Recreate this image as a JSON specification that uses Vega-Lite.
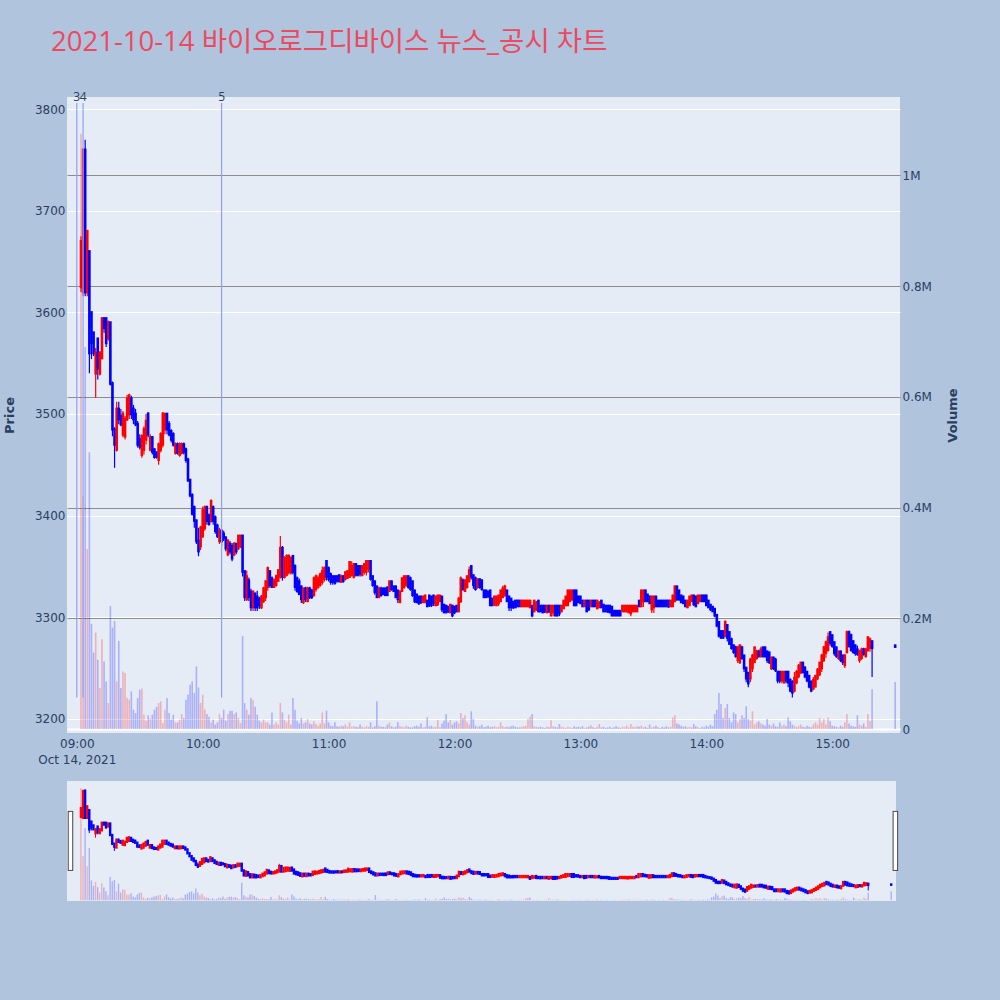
{
"$schema": "https://vega.github.io/schema/vega-lite/v6.json",
"background": "#B0C4DE",
"padding": {"left": 3, "top": 28, "right": 60, "bottom": 100},
"title": {"text": "2021-10-14 바이오로그디바이스 뉴스_공시 차트", "anchor": "start", "frame": "group", "dx": -16, "offset": 35, "fontSize": 27.5, "fontWeight": "normal", "color": "#EB4A5F", "font": "Open Sans, Noto Sans CJK KR, sans-serif"},
"datasets": {
 "news": [{"t": "09:00", "n": "3"}, {"t": "09:03", "n": "4"}, {"t": "10:09", "n": "5"}],
 "handle": [{"t": "08:57", "n": "start"}, {"t": "15:32", "n": "end"}]
},
"data": {"format": {"parse": {"t": "utc:'%H:%M'"}}, "values": [
{"t":"09:02","o":3625,"h":3675,"l":3620,"c":3670,"v":1075000},
{"t":"09:03","o":3620,"h":3761,"l":3616,"c":3760,"v":420000},
{"t":"09:04","o":3760,"h":3770,"l":3616,"c":3620,"v":690000},
{"t":"09:05","o":3620,"h":3680,"l":3616,"c":3680,"v":325000},
{"t":"09:06","o":3660,"h":3660,"l":3540,"c":3560,"v":500000},
{"t":"09:07","o":3600,"h":3600,"l":3554,"c":3570,"v":190000},
{"t":"09:08","o":3580,"h":3581,"l":3557,"c":3560,"v":138000},
{"t":"09:09","o":3540,"h":3565,"l":3516,"c":3560,"v":174000},
{"t":"09:10","o":3574,"h":3575,"l":3534,"c":3545,"v":125000},
{"t":"09:11","o":3540,"h":3562,"l":3538,"c":3560,"v":74000},
{"t":"09:12","o":3555,"h":3595,"l":3554,"c":3594,"v":162000},
{"t":"09:13","o":3594,"h":3595,"l":3580,"c":3585,"v":122000},
{"t":"09:14","o":3594,"h":3595,"l":3566,"c":3570,"v":86000},
{"t":"09:15","o":3575,"h":3592,"l":3572,"c":3590,"v":47000},
{"t":"09:16","o":3590,"h":3590,"l":3528,"c":3530,"v":222000},
{"t":"09:17","o":3530,"h":3532,"l":3478,"c":3485,"v":183000},
{"t":"09:18","o":3485,"h":3487,"l":3447,"c":3470,"v":195000},
{"t":"09:19","o":3465,"h":3512,"l":3463,"c":3505,"v":86000},
{"t":"09:20","o":3505,"h":3512,"l":3490,"c":3495,"v":159000},
{"t":"09:21","o":3498,"h":3505,"l":3488,"c":3490,"v":74000},
{"t":"09:22","o":3480,"h":3503,"l":3477,"c":3500,"v":104000},
{"t":"09:23","o":3478,"h":3498,"l":3475,"c":3495,"v":101000},
{"t":"09:24","o":3495,"h":3519,"l":3493,"c":3515,"v":56000},
{"t":"09:25","o":3500,"h":3520,"l":3495,"c":3518,"v":53000},
{"t":"09:26","o":3515,"h":3518,"l":3495,"c":3500,"v":68000},
{"t":"09:27","o":3505,"h":3509,"l":3490,"c":3495,"v":35000},
{"t":"09:28","o":3500,"h":3505,"l":3488,"c":3490,"v":29000},
{"t":"09:29","o":3490,"h":3493,"l":3467,"c":3470,"v":56000},
{"t":"09:30","o":3475,"h":3480,"l":3465,"c":3468,"v":71000},
{"t":"09:31","o":3460,"h":3480,"l":3457,"c":3478,"v":73000},
{"t":"09:32","o":3465,"h":3488,"l":3460,"c":3485,"v":26000},
{"t":"09:33","o":3475,"h":3500,"l":3470,"c":3493,"v":15000},
{"t":"09:34","o":3500,"h":3502,"l":3477,"c":3480,"v":25000},
{"t":"09:35","o":3465,"h":3480,"l":3463,"c":3477,"v":19000},
{"t":"09:36","o":3477,"h":3478,"l":3460,"c":3463,"v":26000},
{"t":"09:37","o":3465,"h":3466,"l":3456,"c":3458,"v":35000},
{"t":"09:38","o":3462,"h":3463,"l":3456,"c":3458,"v":40000},
{"t":"09:39","o":3455,"h":3472,"l":3450,"c":3470,"v":47000},
{"t":"09:40","o":3465,"h":3482,"l":3462,"c":3480,"v":50000},
{"t":"09:41","o":3470,"h":3502,"l":3467,"c":3500,"v":11000},
{"t":"09:42","o":3485,"h":3501,"l":3480,"c":3500,"v":35000},
{"t":"09:43","o":3500,"h":3501,"l":3480,"c":3485,"v":56000},
{"t":"09:44","o":3490,"h":3493,"l":3478,"c":3480,"v":29000},
{"t":"09:45","o":3483,"h":3485,"l":3472,"c":3475,"v":17000},
{"t":"09:46","o":3480,"h":3482,"l":3468,"c":3470,"v":26000},
{"t":"09:47","o":3462,"h":3472,"l":3460,"c":3470,"v":12000},
{"t":"09:48","o":3470,"h":3472,"l":3460,"c":3462,"v":12000},
{"t":"09:49","o":3460,"h":3472,"l":3458,"c":3470,"v":17000},
{"t":"09:50","o":3462,"h":3472,"l":3460,"c":3470,"v":27000},
{"t":"09:51","o":3470,"h":3472,"l":3460,"c":3463,"v":20000},
{"t":"09:52","o":3465,"h":3467,"l":3452,"c":3455,"v":53000},
{"t":"09:53","o":3455,"h":3457,"l":3433,"c":3435,"v":62000},
{"t":"09:54","o":3435,"h":3436,"l":3418,"c":3420,"v":80000},
{"t":"09:55","o":3420,"h":3422,"l":3400,"c":3402,"v":86000},
{"t":"09:56","o":3408,"h":3410,"l":3388,"c":3395,"v":65000},
{"t":"09:57","o":3395,"h":3396,"l":3372,"c":3375,"v":113000},
{"t":"09:58","o":3375,"h":3388,"l":3360,"c":3365,"v":75000},
{"t":"09:59","o":3370,"h":3390,"l":3366,"c":3388,"v":47000},
{"t":"10:00","o":3380,"h":3409,"l":3378,"c":3405,"v":62000},
{"t":"10:01","o":3388,"h":3410,"l":3385,"c":3408,"v":35000},
{"t":"10:02","o":3408,"h":3410,"l":3391,"c":3395,"v":27000},
{"t":"10:03","o":3400,"h":3402,"l":3390,"c":3392,"v":22000},
{"t":"10:04","o":3395,"h":3416,"l":3393,"c":3414,"v":12000},
{"t":"10:05","o":3408,"h":3410,"l":3391,"c":3395,"v":17000},
{"t":"10:06","o":3398,"h":3400,"l":3382,"c":3385,"v":8000},
{"t":"10:07","o":3390,"h":3392,"l":3378,"c":3380,"v":12000},
{"t":"10:08","o":3375,"h":3388,"l":3372,"c":3385,"v":27000},
{"t":"10:09","o":3385,"h":3386,"l":3370,"c":3375,"v":20000},
{"t":"10:10","o":3382,"h":3385,"l":3375,"c":3378,"v":35000},
{"t":"10:11","o":3378,"h":3380,"l":3365,"c":3368,"v":15000},
{"t":"10:12","o":3362,"h":3377,"l":3360,"c":3375,"v":27000},
{"t":"10:13","o":3372,"h":3375,"l":3362,"c":3365,"v":33000},
{"t":"10:14","o":3370,"h":3373,"l":3355,"c":3358,"v":33000},
{"t":"10:15","o":3362,"h":3374,"l":3360,"c":3372,"v":27000},
{"t":"10:16","o":3372,"h":3373,"l":3362,"c":3365,"v":30000},
{"t":"10:17","o":3368,"h":3381,"l":3366,"c":3380,"v":20000},
{"t":"10:18","o":3370,"h":3381,"l":3368,"c":3380,"v":11000},
{"t":"10:19","o":3380,"h":3381,"l":3340,"c":3345,"v":168000},
{"t":"10:20","o":3345,"h":3346,"l":3316,"c":3320,"v":47000},
{"t":"10:21","o":3318,"h":3346,"l":3316,"c":3340,"v":35000},
{"t":"10:22","o":3336,"h":3339,"l":3316,"c":3320,"v":26000},
{"t":"10:23","o":3325,"h":3328,"l":3306,"c":3310,"v":56000},
{"t":"10:24","o":3310,"h":3326,"l":3306,"c":3325,"v":52000},
{"t":"10:25","o":3323,"h":3324,"l":3306,"c":3310,"v":40000},
{"t":"10:26","o":3320,"h":3326,"l":3306,"c":3310,"v":26000},
{"t":"10:27","o":3318,"h":3320,"l":3308,"c":3312,"v":15000},
{"t":"10:28","o":3310,"h":3322,"l":3308,"c":3320,"v":12000},
{"t":"10:29","o":3316,"h":3330,"l":3314,"c":3328,"v":17000},
{"t":"10:30","o":3320,"h":3336,"l":3316,"c":3335,"v":12000},
{"t":"10:31","o":3330,"h":3350,"l":3326,"c":3348,"v":12000},
{"t":"10:32","o":3345,"h":3346,"l":3329,"c":3332,"v":8000},
{"t":"10:33","o":3338,"h":3340,"l":3329,"c":3330,"v":30000},
{"t":"10:34","o":3330,"h":3338,"l":3329,"c":3336,"v":8000},
{"t":"10:35","o":3332,"h":3342,"l":3330,"c":3340,"v":12000},
{"t":"10:36","o":3336,"h":3347,"l":3335,"c":3346,"v":8000},
{"t":"10:37","o":3340,"h":3380,"l":3338,"c":3368,"v":47000},
{"t":"10:38","o":3368,"h":3370,"l":3336,"c":3340,"v":30000},
{"t":"10:39","o":3340,"h":3360,"l":3338,"c":3358,"v":17000},
{"t":"10:40","o":3342,"h":3362,"l":3340,"c":3360,"v":12000},
{"t":"10:41","o":3345,"h":3362,"l":3342,"c":3360,"v":26000},
{"t":"10:42","o":3344,"h":3360,"l":3342,"c":3358,"v":8000},
{"t":"10:43","o":3360,"h":3361,"l":3342,"c":3345,"v":56000},
{"t":"10:44","o":3350,"h":3352,"l":3326,"c":3330,"v":35000},
{"t":"10:45","o":3338,"h":3340,"l":3324,"c":3326,"v":15000},
{"t":"10:46","o":3335,"h":3338,"l":3322,"c":3323,"v":10000},
{"t":"10:47","o":3330,"h":3331,"l":3314,"c":3318,"v":20000},
{"t":"10:48","o":3315,"h":3329,"l":3313,"c":3328,"v":10000},
{"t":"10:49","o":3328,"h":3330,"l":3315,"c":3318,"v":12000},
{"t":"10:50","o":3316,"h":3330,"l":3315,"c":3328,"v":18000},
{"t":"10:51","o":3328,"h":3330,"l":3318,"c":3320,"v":10000},
{"t":"10:52","o":3326,"h":3328,"l":3318,"c":3320,"v":8000},
{"t":"10:53","o":3322,"h":3340,"l":3320,"c":3338,"v":14000},
{"t":"10:54","o":3328,"h":3342,"l":3325,"c":3340,"v":9000},
{"t":"10:55","o":3330,"h":3341,"l":3328,"c":3338,"v":6000},
{"t":"10:56","o":3332,"h":3344,"l":3330,"c":3342,"v":10000},
{"t":"10:57","o":3335,"h":3350,"l":3332,"c":3345,"v":30000},
{"t":"10:58","o":3338,"h":3350,"l":3335,"c":3348,"v":10000},
{"t":"10:59","o":3355,"h":3356,"l":3336,"c":3340,"v":33000},
{"t":"11:00","o":3348,"h":3350,"l":3335,"c":3338,"v":12000},
{"t":"11:01","o":3342,"h":3344,"l":3332,"c":3335,"v":6000},
{"t":"11:02","o":3340,"h":3341,"l":3332,"c":3335,"v":5000},
{"t":"11:03","o":3340,"h":3341,"l":3332,"c":3334,"v":12000},
{"t":"11:04","o":3340,"h":3341,"l":3334,"c":3336,"v":5000},
{"t":"11:05","o":3341,"h":3342,"l":3334,"c":3336,"v":4000},
{"t":"11:06","o":3335,"h":3342,"l":3334,"c":3340,"v":6000},
{"t":"11:07","o":3340,"h":3341,"l":3334,"c":3336,"v":5000},
{"t":"11:08","o":3338,"h":3345,"l":3336,"c":3344,"v":8000},
{"t":"11:09","o":3339,"h":3346,"l":3338,"c":3345,"v":4000},
{"t":"11:10","o":3340,"h":3355,"l":3339,"c":3354,"v":12000},
{"t":"11:11","o":3342,"h":3355,"l":3340,"c":3350,"v":4000},
{"t":"11:12","o":3340,"h":3353,"l":3338,"c":3352,"v":5000},
{"t":"11:13","o":3352,"h":3353,"l":3340,"c":3342,"v":4000},
{"t":"11:14","o":3350,"h":3351,"l":3340,"c":3342,"v":3000},
{"t":"11:15","o":3350,"h":3351,"l":3340,"c":3343,"v":8000},
{"t":"11:16","o":3342,"h":3351,"l":3340,"c":3350,"v":4000},
{"t":"11:17","o":3345,"h":3353,"l":3342,"c":3352,"v":3000},
{"t":"11:18","o":3345,"h":3356,"l":3341,"c":3355,"v":5000},
{"t":"11:19","o":3348,"h":3356,"l":3344,"c":3355,"v":4000},
{"t":"11:20","o":3355,"h":3356,"l":3336,"c":3338,"v":12000},
{"t":"11:21","o":3340,"h":3341,"l":3330,"c":3332,"v":3000},
{"t":"11:22","o":3335,"h":3336,"l":3322,"c":3325,"v":5000},
{"t":"11:23","o":3330,"h":3331,"l":3319,"c":3320,"v":50000},
{"t":"11:24","o":3320,"h":3330,"l":3319,"c":3328,"v":6000},
{"t":"11:25","o":3328,"h":3330,"l":3320,"c":3322,"v":4000},
{"t":"11:26","o":3328,"h":3329,"l":3322,"c":3323,"v":4000},
{"t":"11:27","o":3328,"h":3329,"l":3321,"c":3322,"v":3000},
{"t":"11:28","o":3329,"h":3330,"l":3321,"c":3322,"v":8000},
{"t":"11:29","o":3326,"h":3336,"l":3325,"c":3335,"v":12000},
{"t":"11:30","o":3335,"h":3336,"l":3326,"c":3328,"v":5000},
{"t":"11:31","o":3330,"h":3331,"l":3325,"c":3326,"v":3000},
{"t":"11:32","o":3330,"h":3331,"l":3319,"c":3320,"v":4000},
{"t":"11:33","o":3326,"h":3327,"l":3314,"c":3318,"v":12000},
{"t":"11:34","o":3315,"h":3326,"l":3314,"c":3325,"v":5000},
{"t":"11:35","o":3326,"h":3339,"l":3325,"c":3338,"v":4000},
{"t":"11:36","o":3330,"h":3341,"l":3328,"c":3340,"v":3000},
{"t":"11:37","o":3332,"h":3341,"l":3330,"c":3340,"v":6000},
{"t":"11:38","o":3340,"h":3341,"l":3328,"c":3330,"v":4000},
{"t":"11:39","o":3338,"h":3340,"l":3326,"c":3328,"v":3000},
{"t":"11:40","o":3335,"h":3336,"l":3320,"c":3322,"v":3000},
{"t":"11:41","o":3326,"h":3327,"l":3314,"c":3316,"v":5000},
{"t":"11:42","o":3322,"h":3323,"l":3314,"c":3315,"v":6000},
{"t":"11:43","o":3320,"h":3321,"l":3312,"c":3314,"v":4000},
{"t":"11:44","o":3320,"h":3321,"l":3313,"c":3315,"v":10000},
{"t":"11:45","o":3315,"h":3321,"l":3314,"c":3320,"v":3000},
{"t":"11:46","o":3315,"h":3322,"l":3314,"c":3321,"v":4000},
{"t":"11:47","o":3316,"h":3317,"l":3310,"c":3311,"v":21000},
{"t":"11:48","o":3321,"h":3322,"l":3310,"c":3312,"v":5000},
{"t":"11:49","o":3320,"h":3321,"l":3310,"c":3312,"v":6000},
{"t":"11:50","o":3321,"h":3322,"l":3311,"c":3314,"v":3000},
{"t":"11:51","o":3312,"h":3321,"l":3311,"c":3320,"v":4000},
{"t":"11:52","o":3313,"h":3322,"l":3311,"c":3321,"v":16000},
{"t":"11:53","o":3316,"h":3322,"l":3315,"c":3321,"v":3000},
{"t":"11:54","o":3320,"h":3321,"l":3305,"c":3308,"v":10000},
{"t":"11:55","o":3312,"h":3313,"l":3304,"c":3305,"v":15000},
{"t":"11:56","o":3311,"h":3312,"l":3304,"c":3305,"v":27000},
{"t":"11:57","o":3310,"h":3311,"l":3304,"c":3306,"v":12000},
{"t":"11:58","o":3305,"h":3313,"l":3304,"c":3312,"v":16000},
{"t":"11:59","o":3311,"h":3312,"l":3300,"c":3302,"v":8000},
{"t":"12:00","o":3310,"h":3311,"l":3303,"c":3305,"v":12000},
{"t":"12:01","o":3311,"h":3312,"l":3305,"c":3306,"v":14000},
{"t":"12:02","o":3306,"h":3320,"l":3305,"c":3318,"v":10000},
{"t":"12:03","o":3316,"h":3340,"l":3314,"c":3338,"v":29000},
{"t":"12:04","o":3336,"h":3338,"l":3326,"c":3328,"v":20000},
{"t":"12:05","o":3326,"h":3337,"l":3325,"c":3336,"v":25000},
{"t":"12:06","o":3330,"h":3341,"l":3328,"c":3340,"v":12000},
{"t":"12:07","o":3336,"h":3350,"l":3334,"c":3346,"v":8000},
{"t":"12:08","o":3350,"h":3351,"l":3337,"c":3340,"v":32000},
{"t":"12:09","o":3341,"h":3342,"l":3328,"c":3332,"v":18000},
{"t":"12:10","o":3338,"h":3340,"l":3326,"c":3328,"v":6000},
{"t":"12:11","o":3330,"h":3338,"l":3328,"c":3337,"v":4000},
{"t":"12:12","o":3337,"h":3338,"l":3328,"c":3330,"v":5000},
{"t":"12:13","o":3336,"h":3337,"l":3326,"c":3328,"v":8000},
{"t":"12:14","o":3326,"h":3327,"l":3319,"c":3320,"v":3000},
{"t":"12:15","o":3326,"h":3327,"l":3319,"c":3320,"v":4000},
{"t":"12:16","o":3325,"h":3326,"l":3319,"c":3321,"v":6000},
{"t":"12:17","o":3326,"h":3327,"l":3311,"c":3312,"v":3000},
{"t":"12:18","o":3318,"h":3319,"l":3311,"c":3312,"v":4000},
{"t":"12:19","o":3313,"h":3321,"l":3311,"c":3320,"v":5000},
{"t":"12:20","o":3312,"h":3321,"l":3311,"c":3320,"v":3000},
{"t":"12:21","o":3314,"h":3322,"l":3311,"c":3321,"v":4000},
{"t":"12:22","o":3316,"h":3327,"l":3315,"c":3326,"v":12000},
{"t":"12:23","o":3320,"h":3331,"l":3319,"c":3328,"v":5000},
{"t":"12:24","o":3322,"h":3332,"l":3320,"c":3330,"v":3000},
{"t":"12:25","o":3326,"h":3327,"l":3315,"c":3316,"v":4000},
{"t":"12:26","o":3320,"h":3321,"l":3306,"c":3310,"v":3000},
{"t":"12:27","o":3318,"h":3319,"l":3306,"c":3310,"v":5000},
{"t":"12:28","o":3315,"h":3316,"l":3308,"c":3310,"v":6000},
{"t":"12:29","o":3316,"h":3317,"l":3309,"c":3310,"v":4000},
{"t":"12:30","o":3316,"h":3317,"l":3310,"c":3311,"v":3000},
{"t":"12:31","o":3316,"h":3317,"l":3310,"c":3311,"v":3000},
{"t":"12:32","o":3311,"h":3317,"l":3310,"c":3316,"v":4000},
{"t":"12:33","o":3311,"h":3317,"l":3310,"c":3316,"v":5000},
{"t":"12:34","o":3311,"h":3317,"l":3310,"c":3316,"v":6000},
{"t":"12:35","o":3311,"h":3317,"l":3310,"c":3316,"v":18000},
{"t":"12:36","o":3310,"h":3317,"l":3309,"c":3316,"v":22000},
{"t":"12:37","o":3311,"h":3312,"l":3300,"c":3302,"v":27000},
{"t":"12:38","o":3306,"h":3317,"l":3305,"c":3316,"v":5000},
{"t":"12:39","o":3308,"h":3316,"l":3306,"c":3314,"v":4000},
{"t":"12:40","o":3316,"h":3317,"l":3305,"c":3306,"v":3000},
{"t":"12:41","o":3311,"h":3312,"l":3305,"c":3306,"v":4000},
{"t":"12:42","o":3311,"h":3312,"l":3304,"c":3305,"v":3000},
{"t":"12:43","o":3311,"h":3312,"l":3304,"c":3306,"v":2000},
{"t":"12:44","o":3305,"h":3312,"l":3304,"c":3311,"v":4000},
{"t":"12:45","o":3311,"h":3312,"l":3304,"c":3306,"v":3000},
{"t":"12:46","o":3302,"h":3312,"l":3301,"c":3311,"v":16000},
{"t":"12:47","o":3305,"h":3312,"l":3301,"c":3311,"v":5000},
{"t":"12:48","o":3311,"h":3312,"l":3301,"c":3302,"v":4000},
{"t":"12:49","o":3311,"h":3312,"l":3301,"c":3302,"v":3000},
{"t":"12:50","o":3311,"h":3312,"l":3301,"c":3304,"v":9000},
{"t":"12:51","o":3306,"h":3312,"l":3305,"c":3311,"v":4000},
{"t":"12:52","o":3309,"h":3317,"l":3308,"c":3316,"v":3000},
{"t":"12:53","o":3312,"h":3321,"l":3311,"c":3320,"v":2000},
{"t":"12:54","o":3312,"h":3327,"l":3311,"c":3326,"v":4000},
{"t":"12:55","o":3316,"h":3327,"l":3315,"c":3326,"v":3000},
{"t":"12:56","o":3318,"h":3327,"l":3316,"c":3326,"v":2000},
{"t":"12:57","o":3326,"h":3327,"l":3311,"c":3312,"v":5000},
{"t":"12:58","o":3326,"h":3327,"l":3311,"c":3312,"v":3000},
{"t":"12:59","o":3320,"h":3321,"l":3314,"c":3315,"v":4000},
{"t":"13:00","o":3320,"h":3321,"l":3313,"c":3314,"v":3000},
{"t":"13:01","o":3316,"h":3317,"l":3310,"c":3311,"v":5000},
{"t":"13:02","o":3311,"h":3317,"l":3310,"c":3316,"v":2000},
{"t":"13:03","o":3316,"h":3317,"l":3305,"c":3306,"v":3000},
{"t":"13:04","o":3316,"h":3317,"l":3306,"c":3308,"v":4000},
{"t":"13:05","o":3311,"h":3317,"l":3310,"c":3316,"v":7000},
{"t":"13:06","o":3316,"h":3317,"l":3310,"c":3311,"v":3000},
{"t":"13:07","o":3316,"h":3317,"l":3310,"c":3311,"v":2000},
{"t":"13:08","o":3309,"h":3317,"l":3308,"c":3316,"v":4000},
{"t":"13:09","o":3310,"h":3316,"l":3309,"c":3314,"v":9000},
{"t":"13:10","o":3316,"h":3317,"l":3309,"c":3310,"v":3000},
{"t":"13:11","o":3312,"h":3313,"l":3305,"c":3306,"v":4000},
{"t":"13:12","o":3311,"h":3312,"l":3305,"c":3306,"v":2000},
{"t":"13:13","o":3311,"h":3312,"l":3304,"c":3306,"v":3000},
{"t":"13:14","o":3311,"h":3312,"l":3304,"c":3305,"v":4000},
{"t":"13:15","o":3310,"h":3311,"l":3301,"c":3302,"v":2000},
{"t":"13:16","o":3306,"h":3307,"l":3301,"c":3302,"v":3000},
{"t":"13:17","o":3306,"h":3307,"l":3301,"c":3302,"v":5000},
{"t":"13:18","o":3306,"h":3307,"l":3301,"c":3302,"v":3000},
{"t":"13:19","o":3306,"h":3307,"l":3301,"c":3302,"v":2000},
{"t":"13:20","o":3306,"h":3312,"l":3305,"c":3311,"v":4000},
{"t":"13:21","o":3306,"h":3312,"l":3305,"c":3311,"v":3000},
{"t":"13:22","o":3306,"h":3312,"l":3305,"c":3311,"v":6000},
{"t":"13:23","o":3305,"h":3312,"l":3304,"c":3311,"v":3000},
{"t":"13:24","o":3304,"h":3312,"l":3301,"c":3311,"v":9000},
{"t":"13:25","o":3306,"h":3312,"l":3305,"c":3311,"v":4000},
{"t":"13:26","o":3306,"h":3312,"l":3305,"c":3311,"v":3000},
{"t":"13:27","o":3306,"h":3312,"l":3305,"c":3311,"v":5000},
{"t":"13:28","o":3316,"h":3317,"l":3310,"c":3311,"v":4000},
{"t":"13:29","o":3311,"h":3327,"l":3310,"c":3326,"v":6000},
{"t":"13:30","o":3316,"h":3327,"l":3310,"c":3326,"v":3000},
{"t":"13:31","o":3326,"h":3327,"l":3315,"c":3316,"v":4000},
{"t":"13:32","o":3322,"h":3323,"l":3315,"c":3316,"v":2000},
{"t":"13:33","o":3320,"h":3321,"l":3313,"c":3314,"v":8000},
{"t":"13:34","o":3308,"h":3321,"l":3304,"c":3320,"v":3000},
{"t":"13:35","o":3310,"h":3321,"l":3304,"c":3320,"v":4000},
{"t":"13:36","o":3320,"h":3321,"l":3310,"c":3311,"v":6000},
{"t":"13:37","o":3316,"h":3317,"l":3310,"c":3311,"v":3000},
{"t":"13:38","o":3316,"h":3317,"l":3310,"c":3311,"v":2000},
{"t":"13:39","o":3316,"h":3317,"l":3310,"c":3311,"v":4000},
{"t":"13:40","o":3316,"h":3317,"l":3310,"c":3311,"v":3000},
{"t":"13:41","o":3316,"h":3317,"l":3310,"c":3311,"v":5000},
{"t":"13:42","o":3316,"h":3317,"l":3309,"c":3311,"v":3000},
{"t":"13:43","o":3311,"h":3317,"l":3310,"c":3316,"v":4000},
{"t":"13:44","o":3311,"h":3322,"l":3310,"c":3321,"v":21000},
{"t":"13:45","o":3316,"h":3331,"l":3315,"c":3330,"v":25000},
{"t":"13:46","o":3330,"h":3331,"l":3316,"c":3318,"v":10000},
{"t":"13:47","o":3326,"h":3327,"l":3316,"c":3318,"v":8000},
{"t":"13:48","o":3321,"h":3322,"l":3314,"c":3315,"v":6000},
{"t":"13:49","o":3320,"h":3321,"l":3313,"c":3314,"v":4000},
{"t":"13:50","o":3316,"h":3317,"l":3310,"c":3311,"v":5000},
{"t":"13:51","o":3310,"h":3317,"l":3309,"c":3316,"v":3000},
{"t":"13:52","o":3312,"h":3321,"l":3311,"c":3320,"v":4000},
{"t":"13:53","o":3316,"h":3322,"l":3315,"c":3321,"v":3000},
{"t":"13:54","o":3321,"h":3322,"l":3311,"c":3313,"v":9000},
{"t":"13:55","o":3320,"h":3321,"l":3310,"c":3311,"v":5000},
{"t":"13:56","o":3314,"h":3322,"l":3313,"c":3321,"v":3000},
{"t":"13:57","o":3316,"h":3322,"l":3315,"c":3321,"v":2000},
{"t":"13:58","o":3321,"h":3322,"l":3315,"c":3316,"v":4000},
{"t":"13:59","o":3321,"h":3322,"l":3315,"c":3316,"v":3000},
{"t":"14:00","o":3321,"h":3322,"l":3311,"c":3312,"v":6000},
{"t":"14:01","o":3316,"h":3317,"l":3309,"c":3310,"v":4000},
{"t":"14:02","o":3312,"h":3313,"l":3306,"c":3308,"v":8000},
{"t":"14:03","o":3310,"h":3311,"l":3305,"c":3306,"v":5000},
{"t":"14:04","o":3308,"h":3309,"l":3300,"c":3302,"v":27000},
{"t":"14:05","o":3302,"h":3303,"l":3290,"c":3292,"v":35000},
{"t":"14:06","o":3295,"h":3296,"l":3280,"c":3282,"v":65000},
{"t":"14:07","o":3286,"h":3287,"l":3279,"c":3280,"v":45000},
{"t":"14:08","o":3286,"h":3287,"l":3279,"c":3280,"v":20000},
{"t":"14:09","o":3282,"h":3297,"l":3280,"c":3295,"v":38000},
{"t":"14:10","o":3292,"h":3293,"l":3276,"c":3280,"v":45000},
{"t":"14:11","o":3285,"h":3286,"l":3273,"c":3274,"v":20000},
{"t":"14:12","o":3278,"h":3280,"l":3268,"c":3270,"v":12000},
{"t":"14:13","o":3272,"h":3273,"l":3264,"c":3266,"v":30000},
{"t":"14:14","o":3270,"h":3272,"l":3260,"c":3262,"v":27000},
{"t":"14:15","o":3258,"h":3272,"l":3255,"c":3270,"v":12000},
{"t":"14:16","o":3256,"h":3273,"l":3254,"c":3272,"v":18000},
{"t":"14:17","o":3270,"h":3272,"l":3258,"c":3260,"v":25000},
{"t":"14:18","o":3262,"h":3263,"l":3246,"c":3250,"v":20000},
{"t":"14:19","o":3250,"h":3251,"l":3236,"c":3240,"v":41000},
{"t":"14:20","o":3245,"h":3246,"l":3231,"c":3235,"v":18000},
{"t":"14:21","o":3240,"h":3260,"l":3236,"c":3258,"v":15000},
{"t":"14:22","o":3250,"h":3264,"l":3246,"c":3262,"v":32000},
{"t":"14:23","o":3256,"h":3271,"l":3255,"c":3270,"v":8000},
{"t":"14:24","o":3260,"h":3268,"l":3258,"c":3266,"v":12000},
{"t":"14:25","o":3266,"h":3268,"l":3260,"c":3262,"v":14000},
{"t":"14:26","o":3262,"h":3271,"l":3260,"c":3268,"v":10000},
{"t":"14:27","o":3270,"h":3271,"l":3260,"c":3262,"v":8000},
{"t":"14:28","o":3270,"h":3271,"l":3260,"c":3262,"v":6000},
{"t":"14:29","o":3266,"h":3267,"l":3255,"c":3258,"v":18000},
{"t":"14:30","o":3265,"h":3266,"l":3254,"c":3256,"v":8000},
{"t":"14:31","o":3250,"h":3261,"l":3248,"c":3260,"v":6000},
{"t":"14:32","o":3260,"h":3261,"l":3248,"c":3250,"v":10000},
{"t":"14:33","o":3258,"h":3260,"l":3246,"c":3248,"v":5000},
{"t":"14:34","o":3246,"h":3247,"l":3235,"c":3238,"v":4000},
{"t":"14:35","o":3246,"h":3247,"l":3235,"c":3238,"v":12000},
{"t":"14:36","o":3238,"h":3247,"l":3235,"c":3246,"v":6000},
{"t":"14:37","o":3236,"h":3247,"l":3235,"c":3246,"v":8000},
{"t":"14:38","o":3246,"h":3247,"l":3235,"c":3238,"v":5000},
{"t":"14:39","o":3246,"h":3247,"l":3231,"c":3236,"v":21000},
{"t":"14:40","o":3238,"h":3240,"l":3226,"c":3228,"v":14000},
{"t":"14:41","o":3236,"h":3238,"l":3221,"c":3226,"v":8000},
{"t":"14:42","o":3228,"h":3246,"l":3226,"c":3240,"v":6000},
{"t":"14:43","o":3236,"h":3248,"l":3234,"c":3246,"v":4000},
{"t":"14:44","o":3242,"h":3254,"l":3240,"c":3252,"v":5000},
{"t":"14:45","o":3246,"h":3256,"l":3244,"c":3255,"v":8000},
{"t":"14:46","o":3255,"h":3256,"l":3245,"c":3246,"v":4000},
{"t":"14:47","o":3250,"h":3252,"l":3240,"c":3242,"v":3000},
{"t":"14:48","o":3246,"h":3247,"l":3236,"c":3238,"v":6000},
{"t":"14:49","o":3242,"h":3243,"l":3230,"c":3232,"v":4000},
{"t":"14:50","o":3236,"h":3238,"l":3226,"c":3228,"v":3000},
{"t":"14:51","o":3230,"h":3241,"l":3228,"c":3238,"v":8000},
{"t":"14:52","o":3232,"h":3243,"l":3231,"c":3242,"v":12000},
{"t":"14:53","o":3240,"h":3250,"l":3238,"c":3248,"v":8000},
{"t":"14:54","o":3244,"h":3256,"l":3242,"c":3255,"v":20000},
{"t":"14:55","o":3250,"h":3264,"l":3246,"c":3262,"v":12000},
{"t":"14:56","o":3258,"h":3272,"l":3256,"c":3270,"v":18000},
{"t":"14:57","o":3265,"h":3277,"l":3260,"c":3275,"v":8000},
{"t":"14:58","o":3268,"h":3285,"l":3266,"c":3280,"v":21000},
{"t":"14:59","o":3285,"h":3286,"l":3272,"c":3275,"v":14000},
{"t":"15:00","o":3282,"h":3283,"l":3270,"c":3272,"v":6000},
{"t":"15:01","o":3275,"h":3276,"l":3262,"c":3265,"v":5000},
{"t":"15:02","o":3270,"h":3271,"l":3260,"c":3262,"v":4000},
{"t":"15:03","o":3260,"h":3267,"l":3258,"c":3266,"v":3000},
{"t":"15:04","o":3266,"h":3267,"l":3256,"c":3258,"v":6000},
{"t":"15:05","o":3262,"h":3263,"l":3253,"c":3256,"v":4000},
{"t":"15:06","o":3253,"h":3264,"l":3250,"c":3262,"v":12000},
{"t":"15:07","o":3266,"h":3287,"l":3264,"c":3285,"v":27000},
{"t":"15:08","o":3285,"h":3287,"l":3270,"c":3272,"v":10000},
{"t":"15:09","o":3282,"h":3284,"l":3266,"c":3268,"v":6000},
{"t":"15:10","o":3276,"h":3277,"l":3264,"c":3266,"v":5000},
{"t":"15:11","o":3272,"h":3273,"l":3262,"c":3265,"v":4000},
{"t":"15:12","o":3268,"h":3272,"l":3262,"c":3264,"v":25000},
{"t":"15:13","o":3258,"h":3268,"l":3255,"c":3266,"v":8000},
{"t":"15:14","o":3260,"h":3270,"l":3258,"c":3268,"v":6000},
{"t":"15:15","o":3268,"h":3270,"l":3262,"c":3264,"v":10000},
{"t":"15:16","o":3262,"h":3270,"l":3260,"c":3268,"v":4000},
{"t":"15:17","o":3268,"h":3281,"l":3266,"c":3280,"v":27000},
{"t":"15:18","o":3270,"h":3280,"l":3266,"c":3278,"v":14000},
{"t":"15:19","o":3276,"h":3277,"l":3241,"c":3270,"v":72000},
{"t":"15:30","o":3272,"h":3272,"l":3271,"c":3271,"v":85000}
]},
"spacing": 48,
"bounds": "flush",
"vconcat": [
{
 "width": 833, "height": 636,
 "encoding": {
  "x": {"field": "t", "type": "temporal",
   "scale": {"type": "utc", "nice": false, "padding": 0, "domain": [-2208956680000, -2208932862000]},
   "axis": {"title": null, "grid": false, "domain": false, "ticks": false, "labelPadding": 5, "labelLineHeight": 16, "labelFont": "DejaVu Sans", "labelFontSize": 12, "labelColor": "#2a3f5f", "labelFlush": false, "labelOverlap": false,
    "values": [-2208956400000, -2208952800000, -2208949200000, -2208945600000, -2208942000000, -2208938400000, -2208934800000],
    "labelExpr": "utchours(datum.value) == 9 ? ['09:00', 'Oct 14, 2021'] : utcFormat(datum.value, '%H:%M')"}}
 },
 "layer": [
  {
   "mark": {"type": "bar", "width": 1.6, "opacity": 0.25},
   "encoding": {
    "y": {"field": "v", "type": "quantitative", "stack": null, "scale": {"domain": [-7200, 1141300], "nice": false},
     "axis": {"orient": "right", "title": "Volume", "values": [0, 200000, 400000, 600000, 800000, 1000000],
      "labelExpr": "datum.value == 0 ? '0' : format(datum.value / 1000000, '~g') + 'M'",
      "grid": true, "gridColor": {"condition": {"test": "datum.value === 0", "value": "#ffffff"}, "value": "#8c8c8c"},
      "gridWidth": {"condition": {"test": "datum.value === 0", "value": 2}, "value": 1},
      "domain": false, "ticks": false, "labelPadding": 2, "labelFont": "DejaVu Sans", "labelFontSize": 12, "labelColor": "#2a3f5f",
      "titleFont": "DejaVu Sans", "titleFontSize": 13, "titleFontWeight": "bold", "titleColor": "#2a3f5f",
      "titleX": 52, "titleY": 318, "titleAngle": -90, "titleBaseline": "middle", "titleAlign": "center"}},
    "y2": {"datum": 0},
    "color": {"condition": {"test": "datum.c > datum.o", "value": "#ff0000"}, "value": "#0000ff"}
   }
  },
  {
   "mark": {"type": "rule", "strokeWidth": 1.2},
   "encoding": {
    "y": {"field": "l", "type": "quantitative", "scale": {"domain": [3186, 3812], "nice": false, "zero": false},
     "axis": {"orient": "left", "title": "Price", "values": [3200, 3300, 3400, 3500, 3600, 3700, 3800], "format": "d",
      "grid": true, "gridColor": "#ffffff", "gridWidth": 1, "domain": false, "ticks": false, "labelPadding": 2,
      "labelFont": "DejaVu Sans", "labelFontSize": 12, "labelColor": "#2a3f5f",
      "titleFont": "DejaVu Sans", "titleFontSize": 13, "titleFontWeight": "bold", "titleColor": "#2a3f5f",
      "titleX": -58, "titleY": 318, "titleAngle": -90, "titleBaseline": "middle", "titleAlign": "center"}},
    "y2": {"field": "h"},
    "color": {"condition": {"test": "datum.c > datum.o", "value": "#ff0000"}, "value": "#0000ff"}
   }
  },
  {
   "mark": {"type": "rule", "strokeWidth": 2.6, "strokeCap": "square"},
   "encoding": {
    "y": {"field": "o", "type": "quantitative", "scale": {"domain": [3186, 3812], "nice": false, "zero": false}, "axis": null},
    "y2": {"field": "c"},
    "color": {"condition": {"test": "datum.c > datum.o", "value": "#ff0000"}, "value": "#0000ff"}
   }
  },
  {
   "data": {"name": "news", "format": {"parse": {"t": "utc:'%H:%M'"}}},
   "mark": {"type": "rule", "color": "#8EA2F2", "strokeWidth": 1.2},
   "encoding": {
    "y": {"datum": 3221, "type": "quantitative", "scale": {"domain": [3186, 3812], "nice": false, "zero": false}, "axis": null},
    "y2": {"datum": 3806}
   }
  },
  {
   "data": {"name": "news", "format": {"parse": {"t": "utc:'%H:%M'"}}},
   "mark": {"type": "text", "baseline": "middle", "align": "center", "fontSize": 12, "font": "Open Sans", "color": "#2a3f5f"},
   "encoding": {
    "y": {"datum": 3812, "type": "quantitative", "scale": {"domain": [3186, 3812], "nice": false, "zero": false}, "axis": null},
    "text": {"field": "n", "type": "nominal"}
   }
  }
 ],
 "resolve": {"scale": {"y": "independent"}}
},
{
 "width": 829, "height": 120,
 "encoding": {
  "x": {"field": "t", "type": "temporal", "axis": null,
   "scale": {"type": "utc", "nice": false, "padding": 0, "domain": [-2208956680000, -2208932862000]}}
 },
 "layer": [
  {
   "mark": {"type": "bar", "width": 1.4, "opacity": 0.25},
   "encoding": {
    "y": {"field": "v", "type": "quantitative", "stack": null, "scale": {"domain": [-7200, 1141300], "nice": false}, "axis": null},
    "y2": {"datum": 0},
    "color": {"condition": {"test": "datum.c > datum.o", "value": "#ff0000"}, "value": "#0000ff"}
   }
  },
  {
   "mark": {"type": "rule", "strokeWidth": 1},
   "encoding": {
    "y": {"field": "l", "type": "quantitative", "scale": {"domain": [3186, 3812], "nice": false, "zero": false}, "axis": null},
    "y2": {"field": "h"},
    "color": {"condition": {"test": "datum.c > datum.o", "value": "#ff0000"}, "value": "#0000ff"}
   }
  },
  {
   "mark": {"type": "rule", "strokeWidth": 2.4, "strokeCap": "square"},
   "encoding": {
    "y": {"field": "o", "type": "quantitative", "scale": {"domain": [3186, 3812], "nice": false, "zero": false}, "axis": null},
    "y2": {"field": "c"},
    "color": {"condition": {"test": "datum.c > datum.o", "value": "#ff0000"}, "value": "#0000ff"}
   }
  },
  {
   "data": {"name": "handle", "format": {"parse": {"t": "utc:'%H:%M'"}}},
   "mark": {"type": "rule", "color": "#444444", "strokeWidth": 5.5},
   "encoding": {
    "y": {"datum": 3343, "type": "quantitative", "scale": {"domain": [3186, 3812], "nice": false, "zero": false}, "axis": null},
    "y2": {"datum": 3656}
   }
  },
  {
   "data": {"name": "handle", "format": {"parse": {"t": "utc:'%H:%M'"}}},
   "mark": {"type": "rule", "color": "#ffffff", "strokeWidth": 3.5},
   "encoding": {
    "y": {"datum": 3348, "type": "quantitative", "scale": {"domain": [3186, 3812], "nice": false, "zero": false}, "axis": null},
    "y2": {"datum": 3651}
   }
  }
 ],
 "resolve": {"scale": {"y": "independent"}}
}
],
"config": {"view": {"fill": "#E5ECF6", "stroke": null}, "font": "DejaVu Sans"}
}
